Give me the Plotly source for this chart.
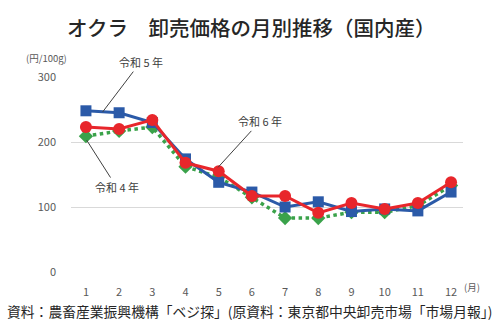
import plotly.graph_objects as go

months = list(range(1, 13))
month_labels = [str(m) for m in months]
r5 = [248, 245, 230, 174, 138, 123, 100, 108, 93, 97, 94, 123]
r6 = [223, 220, 234, 168, 155, 117, 117, 91, 106, 97, 106, 138]
r4 = [209, 217, 223, 162, 146, 115, 83, 83, 92, 92, 102, 133]

font_jp = "Noto Sans CJK JP"
fig = go.Figure()
fig.add_trace(go.Scatter(x=months, y=r4, mode="lines+markers", name="令和4年",
                         line=dict(color="#3aa24a", width=3.5, dash="dot"),
                         marker=dict(symbol="diamond", size=11, color="#3aa24a"),
                         cliponaxis=False))
fig.add_trace(go.Scatter(x=months, y=r5, mode="lines+markers", name="令和5年",
                         line=dict(color="#2b5aa8", width=3),
                         marker=dict(symbol="square", size=11, color="#2b5aa8"),
                         cliponaxis=False))
fig.add_trace(go.Scatter(x=months, y=r6, mode="lines+markers", name="令和6年",
                         line=dict(color="#e8262b", width=3),
                         marker=dict(symbol="circle", size=12, color="#e8262b"),
                         cliponaxis=False))

ann_common = dict(xref="x", yref="y", showarrow=True, arrowhead=0, arrowwidth=1,
                  arrowcolor="#404040", font=dict(family=font_jp, size=11, color="#404040"))
fig.add_annotation(x=1.5, y=246, ax=38, ay=-50, text="令和 5 年", **ann_common)
fig.add_annotation(x=4.98, y=161, ax=42, ay=-46, text="令和 6 年", **ann_common)
fig.add_annotation(x=1.02, y=203, ax=30, ay=47, text="令和 4 年", **ann_common)

fig.add_annotation(xref="paper", yref="paper", x=0.46, y=1, yanchor="middle", yshift=50,
                   text="オクラ　卸売価格の月別推移（国内産）",
                   showarrow=False, font=dict(family=font_jp, size=20.5, color="#262626", weight=500))
fig.add_annotation(xref="paper", yref="paper", x=-0.12, y=1, yshift=28, xanchor="left",
                   text="(円/100g)", showarrow=False, font=dict(family=font_jp, size=9.5, color="#595959"))
fig.add_annotation(xref="paper", yref="paper", x=1.0, y=0, yshift=-24, xanchor="left", xshift=-1,
                   text="(月)", showarrow=False, font=dict(family=font_jp, size=9.5, color="#595959"))
fig.add_annotation(xref="paper", yref="paper", x=-0.168, y=0, yshift=-39, xanchor="left", yanchor="middle",
                   text="資料：農畜産業振興機構「ベジ探」(原資料：東京都中央卸売市場「市場月報」)",
                   showarrow=False, font=dict(family=font_jp, size=13.8, color="#262626"))

fig.update_layout(
    width=500, height=325, margin=dict(l=71, r=37, t=77, b=53),
    plot_bgcolor="white", paper_bgcolor="white", showlegend=False,
    font=dict(family=font_jp),
)
fig.update_xaxes(range=[0.55, 12.36], tickmode="array", tickvals=months, ticktext=month_labels,
                 showgrid=False, zeroline=False, showline=False, ticks="", ticklabelstandoff=12,
                 tickfont=dict(size=11, color="#595959"))
fig.update_yaxes(range=[0, 300], tickvals=[0, 100, 200, 300], showgrid=True, gridcolor="#d9d9d9",
                 zeroline=False, ticks="", ticklabelstandoff=14,
                 tickfont=dict(size=11, color="#595959"))

fig.write_html("out.html")
